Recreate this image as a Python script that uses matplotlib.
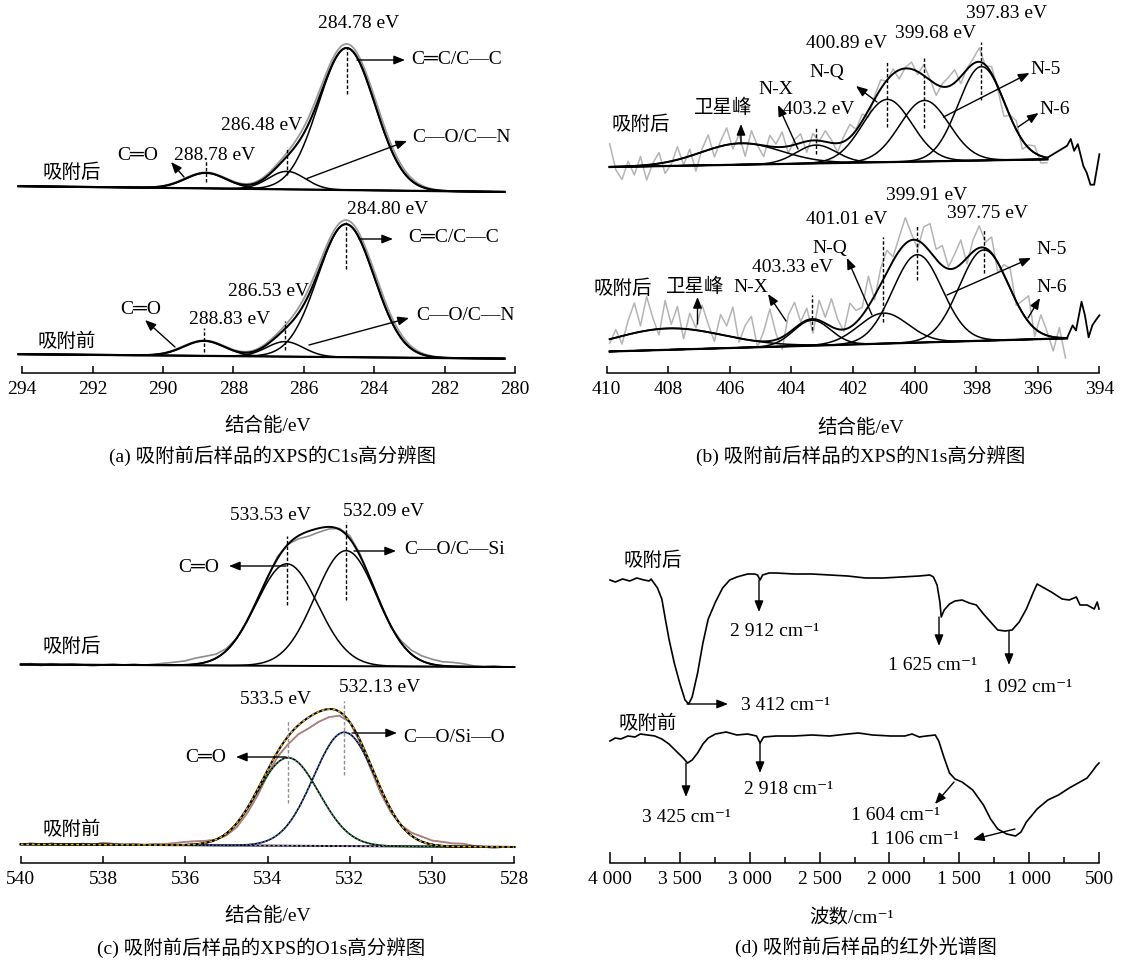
import numpy as np
import matplotlib
matplotlib.use("Agg")
import matplotlib.pyplot as plt

plt.rcParams['font.family'] = ['Liberation Serif', 'DejaVu Serif', 'Noto Sans CJK SC']
plt.rcParams['font.size'] = 14

# ---------------- data ----------------
# (a) C1s  -- peak centre (eV), height, sigma (eV); linear background (left, right)
c1s_after_center = [284.78, 286.48, 288.78]
c1s_after_height = [142, 18, 15.5]
c1s_after_sigma = [0.80, 0.52, 0.58]
c1s_after_raw_height = [146, 18.5, 16]
c1s_after_base = [186.8, 181.1]
c1s_before_center = [284.80, 286.53, 288.83]
c1s_before_height = [133, 15, 15]
c1s_before_sigma = [0.80, 0.52, 0.58]
c1s_before_raw_height = [137, 15.5, 15.5]
c1s_before_base = [18.8, 14.4]
c1s_range = [294.1, 280.3]

# (b) N1s  -- satellite, N-X, N-Q, N-5, N-6
n1s_after_center = [405.64, 403.2, 400.89, 399.68, 397.83]
n1s_after_height = [21.4, 18.3, 62.7, 61, 93.9]
n1s_after_sigma = [1.3, 0.65, 0.8, 0.8, 0.75]
n1s_after_base = [206, 213.7]
n1s_after_range = [409.9, 395.69]
n1s_after_resid = [23, -3, -13, 5, -9, 9, -15, 1, 11, -11, -3, 13, -7, 7, -17, 3,
                   15, -9, 5, 17, -5, 9, -13, 13, -1, -11, 11, 3, 15, -7, 5, 9,
                   -11, 7, -1, 11, 3, -9, 5, 13, 1, 7, -7, 3, 9, -1, 5, -9,
                   1, 7, -3, 11, 1, -11, 3, 9, 13, -7, 1, 5, 14, -1, 7, -3,
                   -15, 1, 9, -9, 3, 7, -7, -5]
n1s_after_tail_e = [395.69, 395.05, 394.93, 394.82, 394.70, 394.52, 394.41, 394.29, 394.17, 394.0]
n1s_after_tail_y = [215.3, 227.2, 234.0, 222.2, 228.9, 206.9, 200.1, 188.3, 188.3, 218.8]

n1s_before_center = [408.0, 403.33, 401.01, 399.91, 397.75]
n1s_before_height = [21.4, 25.4, 30.5, 88, 90.8]
n1s_before_sigma = [1.8, 0.6, 0.8, 0.8, 0.8]
n1s_before_base = [21.5, 34.7]
n1s_before_range = [409.9, 395.05]
n1s_before_resid = [-4, 8, -8, 14, 30, 6, 34, 12, -6, 28, 4, 22, -10, 16, 2, 26,
                    8, -8, 20, 10, 30, -4, 14, 24, -6, 10, 32, 6, -12, 18, 26, 2,
                    12, -14, 20, 6, 28, 10, -2, 24, 12, 8, 30, -4, 16, 22, 4, 14,
                    26, 6, -8, 18, 28, 10, 20, 2, 14, 24, -6, 12, 22, 6, 16, -10,
                    10, 20, -4, 12, 26, -8, 18, 4, -14, 10, -20]
n1s_before_tail_e = [395.05, 394.87, 394.76, 394.58, 394.47, 394.35, 394.23, 394.12, 394.0]
n1s_before_tail_y = [35.0, 47.6, 42.5, 71.3, 57.7, 35.7, 47.6, 52.7, 57.7]

# (c) O1s  -- C=O, C-O
o1s_after_center = [533.53, 532.09]
o1s_after_height = [102, 115.5]
o1s_after_sigma = [0.75, 0.75]
o1s_after_base = [198.5, 196.0]
o1s_after_resid = [0, 1, -1, 1, 0, 1, 0, -1, 0, 1, 0, 1, 0, 1, 2, 3, 4, 6, 6, 4,
                   2, 0, -1, -1, 0, 2, 0, -3, -5, -4, -2, 1, 3, 2, 0, -2, -1, 2,
                   4, 5, 5, 4, 4, 3, 1, 0, 1, 0, 0]
o1s_before_center = [533.5, 532.13]
o1s_before_height = [88, 113.8]
o1s_before_sigma = [0.75, 0.75]
o1s_before_base = [18.7, 16.0]
o1s_before_resid = [0, 1, 0, 1, 0, 0, 1, 0, 2, 1, 0, 1, 0, 1, 1, 2, 3, 3, 2, 0,
                    -2, -4, -5, -6, -5, -5, -8, -9, -11, -10, -8, -4, 0, -2, -4,
                    -5, -3, 0, 3, 5, 4, 4, 3, 3, 1, 0, -1, 0, 0]
o1s_range = [540.0, 528.0]

# (d) IR spectra, wavenumber (cm-1) and transmittance (arb.)
ir_after_wn = [4000, 3962, 3910, 3859, 3808, 3757, 3719, 3706, 3660, 3629, 3604, 3578,
               3540, 3501, 3463, 3437, 3412, 3373, 3335, 3297, 3245, 3194, 3143, 3092,
               3041, 3015, 2964, 2944, 2926, 2908, 2862, 2811, 2683, 2555, 2427, 2299,
               2171, 2043, 1915, 1787, 1711, 1685, 1659, 1639, 1629, 1608, 1570, 1531,
               1480, 1429, 1378, 1327, 1276, 1225, 1173, 1122, 1071, 1020, 969, 943,
               905, 841, 764, 713, 662, 636, 585, 534, 513, 500]
ir_after_t = [283, 281, 284, 282, 285, 283, 282, 284, 275, 264, 244, 224,
              200, 180, 163, 159, 166, 190, 220, 244, 261, 275, 283, 286,
              288, 289, 289, 288, 283, 288, 290, 290, 289, 289, 288, 287,
              285, 285, 286, 287, 288, 286, 278, 261, 246, 253, 259, 262,
              263, 260, 258, 249, 241, 233, 232, 233, 241, 254, 271, 279,
              276, 271, 264, 263, 266, 258, 258, 254, 261, 254]
ir_before_wn = [4000, 3962, 3923, 3872, 3821, 3783, 3731, 3680, 3629, 3578, 3527, 3476,
                3445, 3412, 3373, 3335, 3297, 3245, 3169, 3092, 3015, 2951, 2926, 2900,
                2811, 2683, 2555, 2427, 2299, 2222, 2120, 1992, 1890, 1838, 1787, 1736,
                1672, 1647, 1608, 1570, 1531, 1480, 1404, 1327, 1276, 1225, 1161, 1097,
                1058, 1020, 943, 866, 790, 713, 636, 585, 546, 520, 500]
ir_before_t = [122, 125, 124, 127, 126, 129, 128, 127, 124, 119, 112, 105,
               100, 103, 110, 119, 125, 129, 131, 128, 129, 127, 120, 126,
               127, 127, 128, 127, 129, 130, 128, 127, 127, 129, 126, 127,
               128, 122, 105, 90, 84, 81, 73, 58, 44, 34, 29, 27,
               31, 41, 54, 63, 68, 75, 81, 85, 92, 97, 100]

c1s_ticks = [294, 292, 290, 288, 286, 284, 282, 280]
n1s_ticks = [410, 408, 406, 404, 402, 400, 398, 396, 394]
o1s_ticks = [540, 538, 536, 534, 532, 530, 528]
ir_ticks = [4000, 3500, 3000, 2500, 2000, 1500, 1000, 500]
ir_tick_labels = ['4 000', '3 500', '3 000', '2 500', '2 000', '1 500', '1 000', '500']
ir_minor = [3750, 3250, 2750, 2250, 1750, 1250, 750]

# ---------------- drawing ----------------
W, H = 1122, 963
fig = plt.figure(figsize=(W / 100, H / 100), dpi=100)
fig.patch.set_facecolor('white')


def gauss(x, c, h, s):
    return h * np.exp(-(x - c) ** 2 / (2 * s ** 2))


def fit(x, centers, heights, sigmas, base, xr):
    bg = base[0] + (base[1] - base[0]) * (x - xr[0]) / (xr[1] - xr[0])
    comps = [bg + gauss(x, c, h, s) for c, h, s in zip(centers, heights, sigmas)]
    total = bg + sum(gauss(x, c, h, s) for c, h, s in zip(centers, heights, sigmas))
    return bg, comps, total


def panel(x0, x1, ytop, ybot, xlim, ticks, labels, length=5):
    ax = fig.add_axes([x0 / W, 1 - ybot / H, (x1 - x0) / W, (ybot - ytop) / H])
    ax.set_xlim(xlim)
    ax.set_ylim(0, ybot - ytop)
    for side in ('left', 'right', 'top'):
        ax.spines[side].set_visible(False)
    ax.spines['bottom'].set_linewidth(1.1)
    ax.set_yticks([])
    ax.set_xticks(ticks)
    ax.set_xticklabels(labels)
    ax.tick_params(axis='x', direction='in', length=length, width=1.1, pad=6, labelsize=14)
    ax.patch.set_visible(False)
    return ax


def dashes(ax, ybot, items, color='k'):
    for xc, p0, p1 in items:
        ax.vlines(xc, ybot - p1, ybot - p0, colors=color, linestyles=(0, (2.5, 1.5)), lw=1.0)


K = dict(color='k', clip_on=False)

# ---- (a) C1s
axa = panel(22.1, 515, 0, 373, (294, 280), c1s_ticks, [str(t) for t in c1s_ticks])
xa = np.linspace(c1s_range[0], c1s_range[1], 700)
for cen, hei, sig, raw_h, base in [
        (c1s_after_center, c1s_after_height, c1s_after_sigma, c1s_after_raw_height, c1s_after_base),
        (c1s_before_center, c1s_before_height, c1s_before_sigma, c1s_before_raw_height, c1s_before_base)]:
    bg, comps, total = fit(xa, cen, hei, sig, base, c1s_range)
    _, _, raw = fit(xa, cen, raw_h, [s * 1.04 for s in sig], base, c1s_range)
    axa.plot(xa, raw, color='#9a9a9a', lw=1.3, clip_on=False)
    axa.plot(xa, bg, lw=1.6, **K)
    for cp in comps:
        axa.plot(xa, cp, lw=1.1, **K)
    axa.plot(xa, total, lw=1.5, **K)
dashes(axa, 373, [(284.78, 47, 94), (286.48, 147.5, 175), (288.78, 161, 182),
                  (284.80, 222, 269), (286.53, 321.5, 350), (288.83, 328, 352)])

# ---- (b) N1s
axb = panel(606.6, 1099.4, 0, 373, (410, 394), n1s_ticks, [str(t) for t in n1s_ticks])
for cen, hei, sig, base, xr, resid, te, ty in [
        (n1s_after_center, n1s_after_height, n1s_after_sigma, n1s_after_base,
         n1s_after_range, n1s_after_resid, n1s_after_tail_e, n1s_after_tail_y),
        (n1s_before_center, n1s_before_height, n1s_before_sigma, n1s_before_base,
         n1s_before_range, n1s_before_resid, n1s_before_tail_e, n1s_before_tail_y)]:
    xb = np.linspace(xr[0], xr[1], 600)
    bg, comps, total = fit(xb, cen, hei, sig, base, xr)
    xr_raw = np.linspace(xr[0], xr[0] - 0.2 * (len(resid) - 1), len(resid))
    _, _, tot_raw = fit(xr_raw, cen, hei, sig, base, xr)
    axb.plot(xr_raw, tot_raw + np.array(resid), color='#b4b4b4', lw=1.1, clip_on=False)
    axb.plot(xb, bg, lw=1.6, **K)
    for cp in comps:
        axb.plot(xb, cp, lw=1.1, **K)
    axb.plot(xb, total, lw=1.4, **K)
    axb.plot(te, ty, lw=1.3, **K)
dashes(axb, 373, [(403.2, 128, 154), (400.89, 61, 127), (399.68, 58, 128), (397.83, 42, 100),
                  (403.33, 295, 330), (401.01, 237, 322), (399.91, 225, 280), (397.75, 229, 273)])

# ---- (c) O1s
axc = panel(20.7, 514.3, 480, 863, (540, 528), o1s_ticks, [str(t) for t in o1s_ticks])
xc = np.linspace(o1s_range[0], o1s_range[1], 600)
xc_raw = np.linspace(o1s_range[0], o1s_range[1], len(o1s_after_resid))
# after adsorption: grey/black
bg, comps, total = fit(xc, o1s_after_center, o1s_after_height, o1s_after_sigma, o1s_after_base, o1s_range)
_, _, tr = fit(xc_raw, o1s_after_center, o1s_after_height, o1s_after_sigma, o1s_after_base, o1s_range)
axc.plot(xc_raw, tr + np.array(o1s_after_resid), color='#8c8c8c', lw=1.2)
axc.plot(xc, bg, lw=1.4, **K)
for cp in comps:
    axc.plot(xc, cp, lw=1.1, **K)
axc.plot(xc, total, lw=1.4, **K)
# before adsorption: black with coloured dotted overlays
bg, comps, total = fit(xc, o1s_before_center, o1s_before_height, o1s_before_sigma, o1s_before_base, o1s_range)
_, _, tr = fit(xc_raw, o1s_before_center, o1s_before_height, o1s_before_sigma, o1s_before_base, o1s_range)
raw = tr + np.array(o1s_before_resid)
dot = (0, (1.5, 1.5))
axc.plot(xc_raw, raw, color='#8c8c8c', lw=1.3)
axc.plot(xc_raw, raw, color='#e06a6a', lw=1.0, ls=dot)
axc.plot(xc, bg, lw=1.4, **K)
axc.plot(xc, bg, color='#a58ad6', lw=1.1, ls=dot)
for cp, col in zip(comps, ['#2f9a4f', '#3c6fd6']):
    axc.plot(xc, cp, lw=1.2, **K)
    axc.plot(xc, cp, color=col, lw=0.9, ls=dot)
axc.plot(xc, total, lw=1.5, **K)
axc.plot(xc, total, color='#e8b410', lw=1.0, ls=(0, (2, 2)))
dashes(axc, 383 + 480, [(533.53, 535.6, 604.6), (532.09, 522, 599.5)])
dashes(axc, 383 + 480, [(533.5, 720, 803), (532.13, 701, 775)], color='#909090')

# ---- (d) IR
axd = panel(610, 1099, 480, 863, (4000, 500), ir_ticks, ir_tick_labels, length=8)
axd.set_xticks(ir_minor, minor=True)
axd.tick_params(axis='x', which='minor', direction='in', length=4, width=1.1)
axd.plot(ir_after_wn, ir_after_t, lw=1.2, **K)
axd.plot(ir_before_wn, ir_before_t, lw=1.2, **K)

# ---- overlay in pixel coordinates for labels and arrows
ov = fig.add_axes([0, 0, 1, 1], zorder=10)
ov.set_xlim(0, W)
ov.set_ylim(H, 0)
ov.axis('off')
ov.patch.set_visible(False)


def txt(s, x, y, size=14):
    ov.text(x, y, s, ha='center', va='center', fontsize=size)


def arr(x0, y0, x1, y1):
    ov.annotate('', xy=(x1, y1), xytext=(x0, y0),
                arrowprops=dict(arrowstyle='-|>,head_length=0.55,head_width=0.22',
                                color='k', lw=1.0, shrinkA=0, shrinkB=0, mutation_scale=12))


labels = [
    # (a)
    ('284.78 eV', 359, 23), ('C═C/C—C', 457, 60), ('286.48 eV', 262, 125), ('C═O', 138, 156),
    ('288.78 eV', 215, 156), ('C—O/C—N', 462, 138), ('吸附后', 72, 173),
    ('284.80 eV', 388, 209), ('C═C/C—C', 454, 238), ('286.53 eV', 269, 291), ('C═O', 141, 310),
    ('288.83 eV', 230, 320), ('C—O/C—N', 466, 316), ('吸附前', 67, 342),
    # (b)
    ('397.83 eV', 1007, 14), ('400.89 eV', 847, 43), ('399.68 eV', 936, 34), ('N-Q', 827, 73),
    ('N-X', 776, 89), ('403.2 eV', 819, 110), ('卫星峰', 723, 108), ('吸附后', 641, 125),
    ('N-5', 1046, 70), ('N-6', 1055, 110),
    ('399.91 eV', 927, 195), ('401.01 eV', 847, 220), ('397.75 eV', 988, 214), ('N-Q', 830, 248),
    ('403.33 eV', 793, 268), ('N-X', 751, 287), ('卫星峰', 695, 287), ('吸附后', 623, 289),
    ('N-5', 1052, 250), ('N-6', 1052, 288),
    # (c)
    ('533.53 eV', 270, 516), ('532.09 eV', 384, 512), ('C═O', 199, 567), ('C—O/C—Si', 455, 549),
    ('吸附后', 72, 647), ('533.5 eV', 276, 700), ('532.13 eV', 380, 688), ('C═O', 206, 758),
    ('C—O/Si—O', 454, 737), ('吸附前', 72, 830),
    # (d)
    ('吸附后', 653, 561), ('2 912 cm⁻¹', 775, 632), ('3 412 cm⁻¹', 786, 705),
    ('1 625 cm⁻¹', 933, 665), ('1 092 cm⁻¹', 1028, 687), ('吸附前', 648, 724),
    ('3 425 cm⁻¹', 686, 817), ('2 918 cm⁻¹', 789, 790), ('1 604 cm⁻¹', 896, 815),
    ('1 106 cm⁻¹', 915, 839),
    # axis titles
    ('结合能/eV', 268, 426), ('结合能/eV', 861, 428), ('结合能/eV', 268, 916), ('波数/cm⁻¹', 852, 918),
    ('(a) 吸附前后样品的XPS的C1s高分辨图', 273, 456), ('(b) 吸附前后样品的XPS的N1s高分辨图', 861, 456),
    ('(c) 吸附前后样品的XPS的O1s高分辨图', 261, 948), ('(d) 吸附前后样品的红外光谱图', 866, 947),
]
for s, x, y in labels:
    txt(s, x, y)

arrows = [
    (357, 60, 405, 60), (184, 177, 171, 162), (307, 178.5, 407, 141),
    (359, 239, 393, 239), (175, 347, 145, 320), (309, 345, 409, 318),
    (741, 144, 741, 124), (798, 149, 778, 105), (877, 102, 856, 86),
    (943.5, 117, 1029.5, 73), (1018, 127, 1038.5, 113),
    (697.5, 324, 697.5, 297), (786, 321, 768, 294), (872, 315, 847, 258),
    (947, 295, 1031, 258), (1028, 318, 1040, 298),
    (286, 566, 229, 566), (354, 551, 396, 551), (286, 757, 236, 757), (352, 733, 397, 733),
    (759, 580, 759, 612), (687, 704, 728, 704), (939, 617, 939, 646), (1009, 631, 1009, 665),
    (686, 763, 686, 797), (760, 743, 760, 773), (954, 782, 935, 804), (1015, 829, 973, 839.5),
]
for a in arrows:
    arr(*a)

fig.savefig('out.png', dpi=100, facecolor='white')
